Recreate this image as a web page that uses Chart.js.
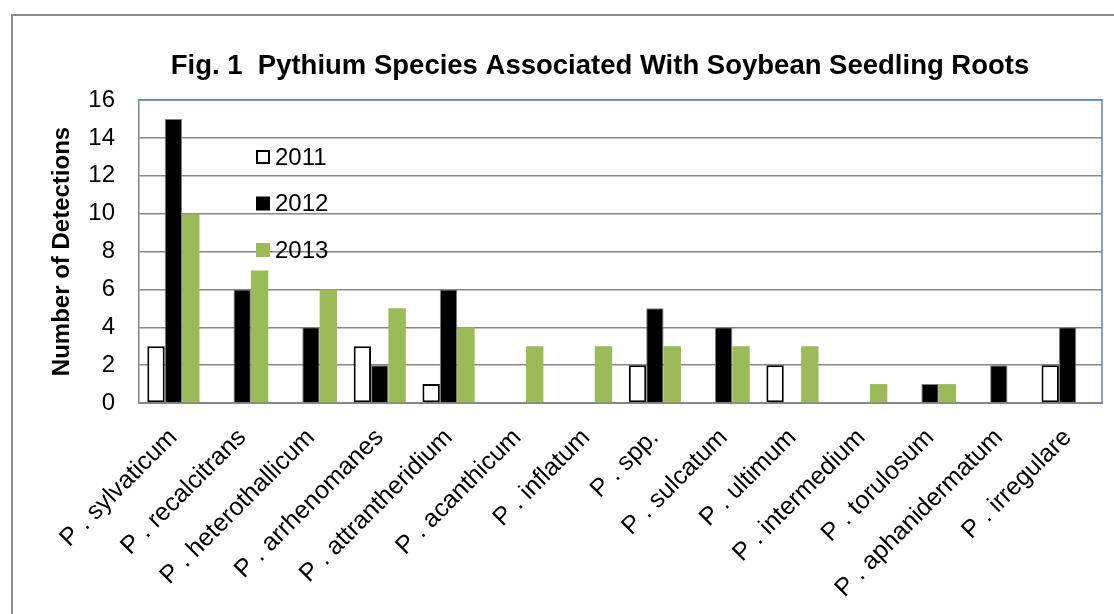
<!DOCTYPE html>
<html>
<head>
<meta charset="utf-8">
<script src="https://cdn.jsdelivr.net/npm/chart.js@4.4.1/dist/chart.umd.min.js"></script>
<style>
  html, body { margin: 0; padding: 0; background: #ffffff; }
  #wrap { width: 1114px; height: 614px; position: relative; }
  canvas { display: block; }
</style>
</head>
<body>
<div id="wrap"><canvas id="chart" width="1114" height="614" style="width:1114px;height:614px"></canvas></div>
<script>
const categories = [
  "P . sylvaticum", "P . recalcitrans", "P . heterothallicum", "P . arrhenomanes",
  "P . attrantheridium", "P . acanthicum", "P . inflatum", "P . spp.",
  "P . sulcatum", "P . ultimum", "P . intermedium", "P . torulosum",
  "P . aphanidermatum", "P . irregulare"
];
const seriesNames = ["2011", "2012", "2013"];
const values2011 = [3, 0, 0, 3, 1, 0, 0, 2, 0, 2, 0, 0, 0, 2];
const values2012 = [15, 6, 4, 2, 6, 0, 0, 5, 4, 0, 0, 1, 2, 4];
const values2013 = [10, 7, 6, 5, 4, 3, 3, 3, 3, 3, 1, 1, 0, 0];
const yTickValues = [0, 2, 4, 6, 8, 10, 12, 14, 16];
const titleText = "Fig. 1  Pythium Species Associated With Soybean Seedling Roots";
const yTitleText = "Number of Detections";

const FONT = "'Liberation Sans', Arial, Helvetica, sans-serif";
const GRID = "#868686";

const outerBorder = {
  id: 'outerBorder',
  beforeDraw(chart) {
    const ctx = chart.ctx;
    ctx.save();
    ctx.fillStyle = '#ffffff';
    ctx.fillRect(0, 0, chart.width, chart.height);
    ctx.strokeStyle = '#8c8c8c';
    ctx.lineWidth = 2;
    ctx.strokeRect(12, 15, 1300, 900);
    ctx.restore();
  }
};

const chartTitle = {
  id: 'chartTitle',
  afterDraw(chart) {
    const ctx = chart.ctx;
    ctx.save();
    ctx.fillStyle = '#000000';
    ctx.font = "bold 27.5px " + FONT;
    ctx.textAlign = 'center';
    ctx.textBaseline = 'alphabetic';
    ctx.fillText(titleText, 600, 74);
    ctx.restore();
  }
};

const plotFrame = {
  id: 'plotFrame',
  afterDatasetsDraw(chart) {
    const {ctx, chartArea: a} = chart;
    ctx.save();
    ctx.strokeStyle = '#5B87C5';
    ctx.lineWidth = 1.5;
    ctx.beginPath();
    ctx.moveTo(a.left, a.top);
    ctx.lineTo(a.right, a.top);
    ctx.lineTo(a.right, a.bottom);
    ctx.stroke();
    ctx.restore();
  }
};

const insideLegend = {
  id: 'insideLegend',
  afterDraw(chart) {
    const {ctx, chartArea: a} = chart;
    const x0 = a.left + 117;
    const y0 = a.top + 57;
    const step = 46.5;
    ctx.save();
    chart.data.datasets.forEach((ds, i) => {
      const cy = y0 + i * step;
      const s = 14;
      if (i === 0) {
        ctx.fillStyle = '#ffffff';
        ctx.fillRect(x0, cy - s / 2, s, s);
        ctx.strokeStyle = '#000000';
        ctx.lineWidth = 2;
        ctx.strokeRect(x0 + 1, cy - s / 2 + 1, s - 2, s - 2);
      } else {
        ctx.fillStyle = ds.backgroundColor;
        ctx.fillRect(x0, cy - s / 2, s, s);
      }
      ctx.fillStyle = '#000000';
      ctx.font = "24px " + FONT;
      ctx.textAlign = 'left';
      ctx.textBaseline = 'middle';
      ctx.fillText(ds.label, x0 + 19, cy + 1);
    });
    ctx.restore();
  }
};

new Chart(document.getElementById('chart'), {
  type: 'bar',
  data: {
    labels: categories,
    datasets: [
      {
        label: seriesNames[0], data: values2011,
        backgroundColor: '#ffffff', borderColor: '#000000', borderWidth: 2,
        borderSkipped: false
      },
      {
        label: seriesNames[1], data: values2012,
        backgroundColor: '#000000', borderColor: '#7f7f7f', borderWidth: 1,
        borderSkipped: 'start'
      },
      {
        label: seriesNames[2], data: values2013,
        backgroundColor: '#9BBB59', borderWidth: 0
      }
    ]
  },
  options: {
    responsive: false,
    animation: false,
    devicePixelRatio: 1,
    categoryPercentage: 0.758,
    barPercentage: 1.0,
    layout: { padding: { left: 0, right: 12, top: 100, bottom: 0 } },
    plugins: {
      legend: { display: false },
      tooltip: { enabled: false },
      title: { display: false }
    },
    scales: {
      x: {
        grid: { display: false, drawTicks: false },
        border: { display: true, color: GRID, width: 2 },
        ticks: {
          autoSkip: false, maxRotation: 45, minRotation: 45,
          color: '#000000', padding: 20,
          font: { family: FONT, size: 25 }
        },
        afterFit(scale) { scale.height = 211; }
      },
      y: {
        min: 0, max: 16,
        afterBuildTicks(scale) { scale.ticks = yTickValues.map(v => ({ value: v })); },
        grid: { color: GRID, lineWidth: 1.5, drawTicks: false },
        border: { display: true, color: GRID, width: 1.5 },
        ticks: {
          color: '#000000', padding: 24,
          font: { family: FONT, size: 24 }
        },
        title: {
          display: true, text: yTitleText, color: '#000000',
          font: { family: FONT, size: 24, weight: 'bold' },
          padding: { top: 48, bottom: 0 }
        },
        afterFit(scale) { scale.width = 139; }
      }
    }
  },
  plugins: [outerBorder, chartTitle, plotFrame, insideLegend]
});
</script>
</body>
</html>
